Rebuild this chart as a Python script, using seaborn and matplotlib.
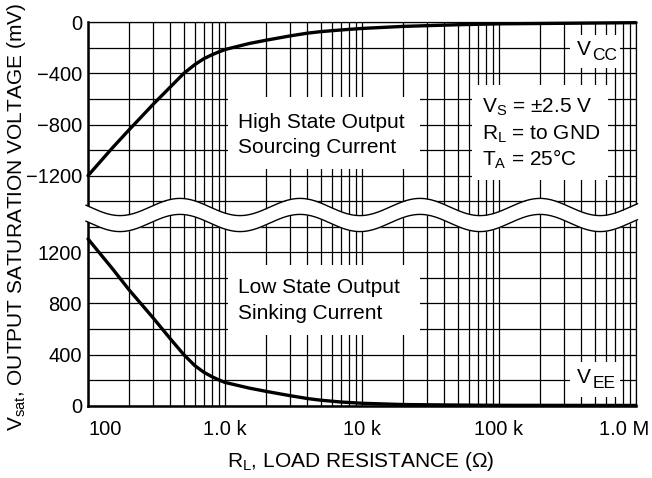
import matplotlib.pyplot as plt
import seaborn as sns
import numpy as np
import pandas as pd
from matplotlib.patches import Rectangle
from matplotlib.ticker import LogLocator, NullFormatter, FixedLocator
from matplotlib.transforms import ScaledTranslation, blended_transform_factory

# load resistance (ohms) at which the curves were read
r_load = [100, 150, 200, 300, 400, 500, 600, 700, 800, 900, 1000, 1500,
          2000, 3000, 4000, 5000, 7000, 10000, 20000, 50000, 100000, 1000000]
# high state output, sourcing current (mV, referred to VCC)
v_high = [-1200, -985, -840, -640, -505, -400, -332, -285, -255, -232, -213, -166,
          -140, -106, -85, -73, -60, -48, -32, -19, -12, -3]
# low state output, sinking current (mV, referred to VEE)
v_low = [1305, 1075, 905, 685, 522, 400, 315, 262, 228, 202, 182, 138,
         112, 78, 56, 43, 29, 19, 9, 5, 3, 2]

x_ticks = [100, 1e3, 1e4, 1e5, 1e6]
x_labels = ["100", "1.0 k", "10 k", "100 k", "1.0 M"]
top_ticks = [0, -400, -800, -1200]
bottom_ticks = [1200, 800, 400, 0]

OFFSET = 3000  # lower (VEE) section is drawn shifted down by this amount

W, H = 652, 478
AX_L, AX_R, AX_T, AX_B = 88, 636, 22.3, 405.7


def ax_frac(px, py):
    # pixel position -> axes fraction
    return (px - AX_L) / (AX_R - AX_L), (AX_B - py) / (AX_B - AX_T)


sns.set_theme(style="white")
plt.rcParams['font.family'] = ['Liberation Sans', 'DejaVu Sans']
plt.rcParams['text.color'] = 'black'

fig = plt.figure(figsize=(W / 100, H / 100), dpi=100)
ax = fig.add_axes([AX_L / W, 1 - AX_B / H, (AX_R - AX_L) / W, (AX_B - AX_T) / H])

df = pd.DataFrame({
    "R": r_load + r_load,
    "V": v_high + [v - OFFSET for v in v_low],
    "curve": ["high"] * len(r_load) + ["low"] * len(r_load),
})
sns.lineplot(data=df, x="R", y="V", units="curve", estimator=None,
             color="black", lw=2.4, ax=ax, clip_on=False, zorder=5)

ax.set_xscale("log")
ax.set_xlim(100, 1e6)
ax.set_ylim(-OFFSET, 0)

ax.set_xticks(x_ticks)
ax.set_xticklabels(x_labels)
ax.xaxis.set_minor_locator(LogLocator(base=10, subs=range(2, 10)))
ax.xaxis.set_minor_formatter(NullFormatter())

yt = top_ticks + [v - OFFSET for v in bottom_ticks]
ax.set_yticks(yt)
ax.set_yticklabels([str(v).replace("-", "\u2212") for v in top_ticks + bottom_ticks])
ax.yaxis.set_minor_locator(FixedLocator(np.arange(-OFFSET, 1, 200)))

ax.grid(which="both", color="black", lw=0.9)
ax.set_axisbelow(True)
ax.tick_params(which="both", length=0, labelsize=14.5, colors="black")
ax.tick_params(axis="x", pad=10)
ax.tick_params(axis="y", pad=4.3)
ax.set_xlabel("")
ax.set_ylabel("")

for s in ax.spines.values():
    s.set_color("black")
    s.set_linewidth(0.9)
ax.spines["left"].set_linewidth(1.8)
ax.spines["bottom"].set_linewidth(1.8)

labels = ax.get_xticklabels()
labels[0].set_horizontalalignment("left")
labels[-1].set_transform(labels[-1].get_transform()
                         + ScaledTranslation(-0.12, 0, fig.dpi_scale_trans))

# axis break (wavy band)
per_px = OFFSET / (AX_B - AX_T)
xf = np.linspace(-0.004, 1.003, 600)
upper = -(207 - AX_T) * per_px + 8.6 * per_px * np.cos(2 * np.pi * (xf - (180 - AX_L) / 548) / (120 / 548))
lower = upper - 16 * per_px
trans = blended_transform_factory(ax.transAxes, ax.transData)
ax.fill_between(xf, lower, upper, color="white", lw=0, transform=trans, zorder=3, clip_on=False)
ax.plot(xf, upper, color="black", lw=1.0, transform=trans, zorder=3.1, clip_on=False)
ax.plot(xf, lower, color="black", lw=1.0, transform=trans, zorder=3.1, clip_on=False)

# white boxes behind the annotations
for (x0, y0, x1, y1) in [(228, 97, 420, 169), (228, 265, 420, 335),
                         (472, 85, 608, 180), (570, 35, 620, 68), (570, 362, 620, 397)]:
    fx, fy = ax_frac(x0, y1)
    ax.add_patch(Rectangle((fx, fy), (x1 - x0) / 548, (y1 - y0) / (AX_B - AX_T),
                           transform=ax.transAxes, facecolor="white", edgecolor="none", zorder=3))

notes = [
    (238, 128, "High State Output"),
    (238, 153, "Sourcing Current"),
    (238, 293, "Low State Output"),
    (238, 319, "Sinking Current"),
    (482, 112.7, r"$\mathregular{V_S}$ = " + "\u00b12.5 V"),
    (482, 139.3, r"$\mathregular{R_L}$ = to GND"),
    (482, 166, r"$\mathregular{T_A}$ = " + "25\u00b0C"),
]
for px, py, txt in notes:
    fx, fy = ax_frac(px, py)
    ax.text(fx, fy, txt, transform=ax.transAxes, ha="left", va="baseline",
            fontsize=15, zorder=4)

# supply labels, subscript drawn a bit larger than mathtext would
for py, sub in [(55, "CC"), (383, "EE")]:
    fx, fy = ax_frac(577, py)
    ax.text(fx, fy, "V", transform=ax.transAxes, ha="left", va="baseline",
            fontsize=15, zorder=4)
    fx2, fy2 = ax_frac(592.5, py + 5)
    ax.text(fx2, fy2, sub, transform=ax.transAxes, ha="left", va="baseline",
            fontsize=12.5, zorder=4)

fig.text(361 / W, 1 - 467 / H, r"$\mathregular{R_L}$, LOAD RESISTANCE (" + "\u03a9)",
         ha="center", va="baseline", fontsize=15)
fig.text(22 / W, 1 - 217 / H, r"$\mathregular{V_{sat}}$, OUTPUT SATURATION VOLTAGE (mV)",
         ha="center", va="baseline", rotation=90, rotation_mode="anchor", fontsize=15)

fig.savefig("out.png", dpi=100)
